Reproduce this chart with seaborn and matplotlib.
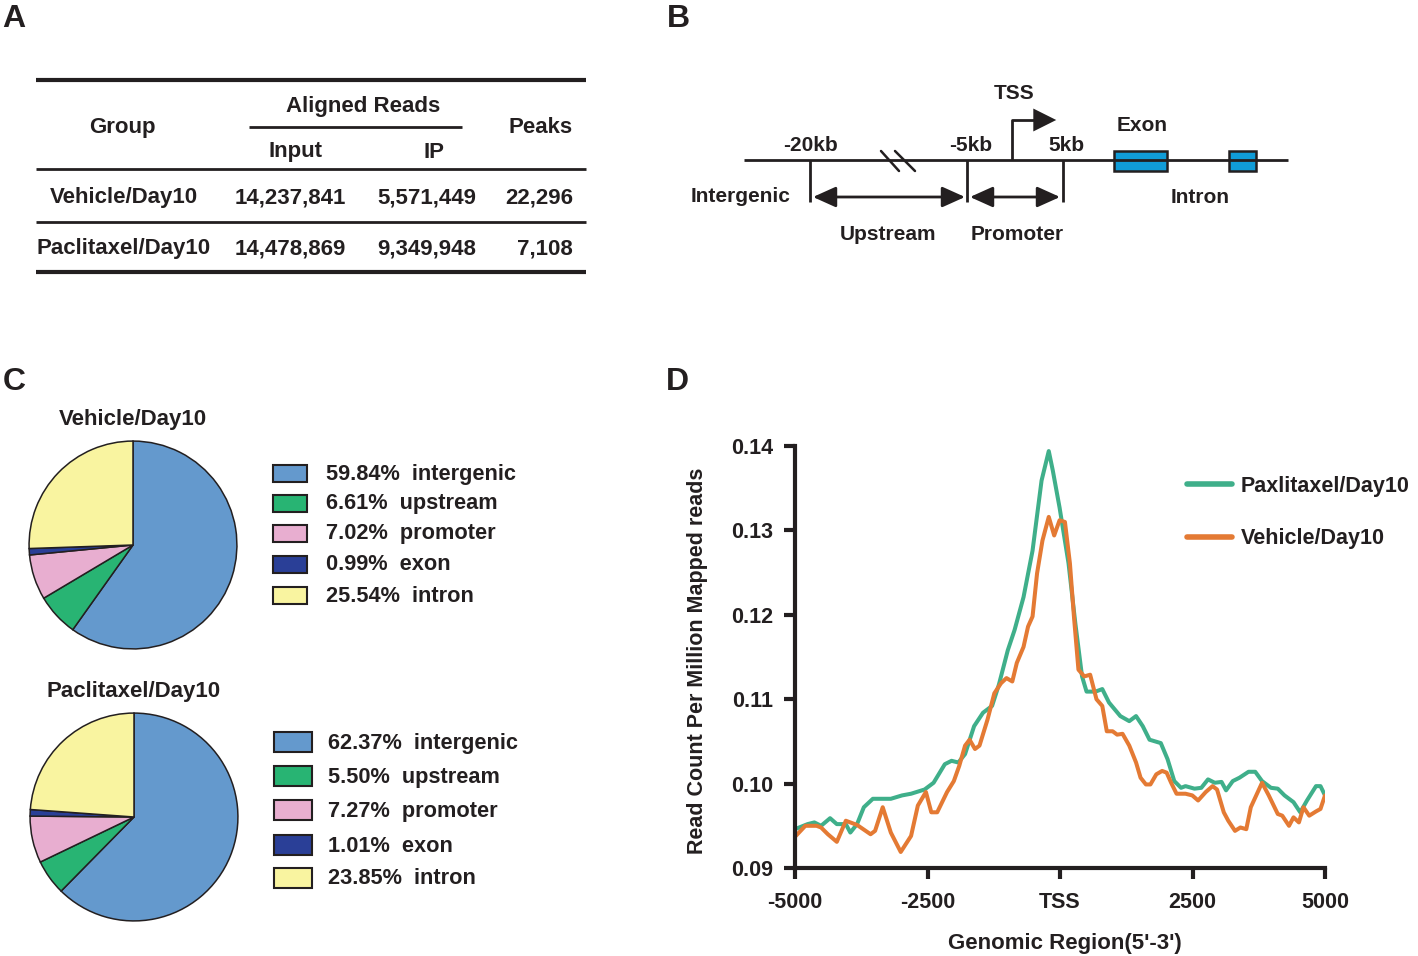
import numpy as np
import pandas as pd
import matplotlib
matplotlib.use("Agg")
import matplotlib.pyplot as plt
import seaborn as sns
from matplotlib.patches import Rectangle, FancyArrowPatch

# ---------------- data ----------------
groups = ["Vehicle/Day10", "Paclitaxel/Day10"]
input_reads = [14237841, 14478869]
ip_reads = [5571449, 9349948]
peaks = [22296, 7108]

pie_labels = ["intergenic", "upstream", "promoter", "exon", "intron"]
vehicle_pct = [59.84, 6.61, 7.02, 0.99, 25.54]
paclitaxel_pct = [62.37, 5.50, 7.27, 1.01, 23.85]
pie_colors = ["#6499CD", "#28B473", "#E8AED0", "#2A3F97", "#F9F4A0"]

series_names = ["Paxlitaxel/Day10", "Vehicle/Day10"]
pac_x = [-5000, -4762, -4635, -4508, -4338, -4211, -4041, -3956, -3829, -3701, -3531, -3192,
         -2980, -2810, -2555, -2385, -2173, -2046, -1918, -1791, -1621, -1452, -1282, -1154,
         -985, -857, -688, -518, -348, -212, -136, -8, 161, 289, 416, 501, 671, 798, 925,
         1138, 1307, 1435, 1562, 1689, 1902, 2029, 2156, 2284, 2368, 2538, 2666, 2793, 2920,
         3048, 3133, 3260, 3387, 3557, 3684, 3812, 3981, 4109, 4236, 4406, 4533, 4660, 4830,
         4915, 5000]
pac_y = [0.0946, 0.0952, 0.0954, 0.0950, 0.0959, 0.0952, 0.0952, 0.0942, 0.0952, 0.0972, 0.0982, 0.0982,
         0.0986, 0.0988, 0.0993, 0.1001, 0.1023, 0.1027, 0.1025, 0.1035, 0.1068, 0.1084, 0.1092, 0.1117,
         0.1158, 0.1182, 0.1221, 0.1276, 0.1359, 0.1394, 0.1371, 0.1327, 0.1261, 0.1190, 0.1127, 0.1109,
         0.1109, 0.1112, 0.1096, 0.1080, 0.1074, 0.1080, 0.1068, 0.1052, 0.1048, 0.1029, 0.1003, 0.0995,
         0.0997, 0.0994, 0.0995, 0.1005, 0.1001, 0.1002, 0.0992, 0.1003, 0.1007, 0.1014, 0.1014, 0.1003,
         0.0995, 0.0994, 0.0986, 0.0978, 0.0966, 0.0980, 0.0997, 0.0997, 0.0986]
veh_x = [-5000, -4805, -4593, -4508, -4380, -4211, -4041, -3829, -3574, -3489, -3345, -3192,
         -3005, -2810, -2682, -2530, -2428, -2317, -2131, -2003, -1901, -1791, -1706, -1604,
         -1519, -1367, -1239, -1112, -1010, -900, -815, -688, -603, -518, -433, -331, -212,
         -110, -8, 93, 187, 263, 348, 458, 569, 688, 798, 883, 993, 1078, 1180, 1307, 1435,
         1520, 1621, 1706, 1817, 1927, 2012, 2097, 2199, 2368, 2496, 2606, 2750, 2878, 2963,
         3090, 3175, 3302, 3404, 3515, 3600, 3812, 3939, 4109, 4194, 4321, 4406, 4508, 4593,
         4703, 4830, 4915, 5000]
veh_y = [0.0937, 0.0950, 0.0950, 0.0948, 0.0940, 0.0931, 0.0956, 0.0951, 0.0940, 0.0944, 0.0972, 0.0942,
         0.0919, 0.0938, 0.0974, 0.0990, 0.0966, 0.0966, 0.0990, 0.1003, 0.1021, 0.1045, 0.1052, 0.1041,
         0.1045, 0.1076, 0.1107, 0.1119, 0.1125, 0.1121, 0.1143, 0.1162, 0.1186, 0.1198, 0.1249, 0.1288,
         0.1316, 0.1294, 0.1312, 0.1310, 0.1261, 0.1198, 0.1135, 0.1127, 0.1129, 0.1100, 0.1092, 0.1062,
         0.1062, 0.1058, 0.1059, 0.1045, 0.1025, 0.1007, 0.0999, 0.0999, 0.1011, 0.1015, 0.1013, 0.1001,
         0.0988, 0.0988, 0.0986, 0.0980, 0.0990, 0.0997, 0.0993, 0.0966, 0.0956, 0.0944, 0.0948, 0.0946,
         0.0972, 0.1001, 0.0986, 0.0964, 0.0962, 0.0950, 0.0960, 0.0954, 0.0972, 0.0962, 0.0967, 0.0970,
         0.0986]
line_colors = ["#3FAF8A", "#E47A34"]
x_ticks = [-5000, -2500, 0, 2500, 5000]
x_tick_labels = ["-5000", "-2500", "TSS", "2500", "5000"]
y_ticks = [0.09, 0.10, 0.11, 0.12, 0.13, 0.14]

# ---------------- style ----------------
sns.set_theme(style="white")
plt.rcParams["font.family"] = ["Liberation Sans", "DejaVu Sans"]
plt.rcParams["font.weight"] = "bold"
INK = "#231f20"

W, H = 1418, 956
fig = plt.figure(figsize=(W / 100, H / 100), dpi=100)
fig.patch.set_facecolor("white")


def px_rect(l, t, r, b):
    return [l / W, 1 - b / H, (r - l) / W, (b - t) / H]


cv = fig.add_axes([0, 0, 1, 1])
cv.set_xlim(0, W)
cv.set_ylim(H, 0)
cv.axis("off")


def txt(x, y, s, size=16, ha="center", va="baseline", **kw):
    cv.text(x, y, s, fontsize=size, fontweight="bold", ha=ha, va=va, color=INK, **kw)


# panel letters
for lx, ly, lab in [(14, 27, "A"), (678, 27, "B"), (14, 390, "C"), (677, 390, "D")]:
    txt(lx, ly, lab, size=23)

# ---------------- panel A: table ----------------
TL, TR = 36, 586
cv.plot([TL, TR], [80, 80], color=INK, lw=3.0, solid_capstyle="butt")
cv.plot([249, 462], [127, 127], color=INK, lw=2.0, solid_capstyle="butt")
cv.plot([TL, TR], [169, 169], color=INK, lw=2.0, solid_capstyle="butt")
cv.plot([TL, TR], [222, 222], color=INK, lw=2.0, solid_capstyle="butt")
cv.plot([TL, TR], [272, 272], color=INK, lw=3.0, solid_capstyle="butt")
txt(363, 112, "Aligned Reads")
txt(122, 133, "Group")
txt(541, 133, "Peaks")
txt(295, 157, "Input")
txt(434, 158, "IP")
row_base = [203, 254]
for i, g in enumerate(groups):
    yb = row_base[i]
    txt(124, yb, g)
    txt(290, yb, f"{input_reads[i]:,}")
    txt(427, yb, f"{ip_reads[i]:,}")
    txt(573, yb, f"{peaks[i]:,}", ha="right")

# ---------------- panel B: diagram ----------------
BS = 15
cv.plot([744, 1288], [160, 160], color=INK, lw=2.0, solid_capstyle="butt")
cv.plot([881, 899], [151, 171], color=INK, lw=1.8)
cv.plot([895, 915], [151, 171], color=INK, lw=1.8)
for vx in [810, 967, 1063]:
    cv.plot([vx, vx], [160, 202], color=INK, lw=2.0, solid_capstyle="butt")
cv.plot([1012, 1012, 1044], [160, 120, 120], color=INK, lw=2.0, solid_capstyle="butt")
cv.add_patch(FancyArrowPatch((1040, 120), (1059, 120), arrowstyle="-|>,head_length=1.1,head_width=0.55",
                             mutation_scale=15, color=INK, lw=0))
for (x0, x1) in [(813, 965), (970, 1060)]:
    cv.add_patch(FancyArrowPatch((x0, 197), (x1, 197),
                                 arrowstyle="<|-|>,head_length=1.0,head_width=0.45",
                                 mutation_scale=14, color=INK, lw=2.0, shrinkA=0, shrinkB=0))
cv.add_patch(Rectangle((1114, 151), 53, 20, facecolor="#109CD8", edgecolor=INK, lw=1.8))
cv.add_patch(Rectangle((1229, 151), 27, 20, facecolor="#109CD8", edgecolor=INK, lw=1.8))
txt(1014, 99, "TSS", size=BS)
txt(811, 151, "-20kb", size=BS)
txt(971, 151, "-5kb", size=BS)
txt(1066, 151, "5kb", size=BS)
txt(1142, 131, "Exon", size=BS)
txt(741, 202, "Intergenic", size=BS)
txt(1200, 203, "Intron", size=BS)
txt(888, 240, "Upstream", size=BS)
txt(1017, 240, "Promoter", size=BS)

# ---------------- panel C: pies ----------------
def draw_pie(cx, cy, r, vals, title, ty, leg_ys, leg_x0, leg_w, leg_h, text_x):
    ax = fig.add_axes(px_rect(cx - r, cy - r, cx + r, cy + r))
    ax.pie(vals, colors=pie_colors, startangle=90, counterclock=False,
           wedgeprops=dict(edgecolor=INK, linewidth=1.1))
    ax.set_xlim(-1.02, 1.02)
    ax.set_ylim(-1.02, 1.02)
    ax.set_aspect("equal")
    ax.axis("off")
    txt(cx, ty, title, size=16, va="center")
    for v, lab, col, yy in zip(vals, pie_labels, pie_colors, leg_ys):
        cv.add_patch(Rectangle((leg_x0, yy - leg_h / 2), leg_w, leg_h, facecolor=col,
                               edgecolor=INK, lw=1.5))
        txt(text_x, yy + 1, f"{v:.2f}%  {lab}", size=15.7, ha="left", va="center")


draw_pie(133, 545, 106, vehicle_pct, groups[0], 420, [473, 503, 533, 564, 595], 273, 34, 17, 326)
draw_pie(134, 817, 106, paclitaxel_pct, groups[1], 692, [742, 776, 810, 845, 878], 274, 38, 20, 328)

# ---------------- panel D: line chart ----------------
frames = [pd.DataFrame({"pos": pac_x, "rpm": pac_y, "group": series_names[0]}),
          pd.DataFrame({"pos": veh_x, "rpm": veh_y, "group": series_names[1]})]
df = pd.concat(frames, ignore_index=True)

axd = fig.add_axes(px_rect(795, 446, 1325, 868))
sns.lineplot(data=df, x="pos", y="rpm", hue="group", hue_order=series_names,
             palette=line_colors, linewidth=2.9, estimator=None, sort=False, ax=axd)
axd.set_xlim(-5000, 5000)
axd.set_ylim(0.09, 0.14)
axd.set_facecolor("none")
sns.despine(ax=axd)
for side in ["left", "bottom"]:
    axd.spines[side].set_linewidth(3)
    axd.spines[side].set_color(INK)
axd.set_xticks(x_ticks)
axd.set_xticklabels(x_tick_labels)
axd.set_yticks(y_ticks)
axd.set_yticklabels([f"{v:.2f}" for v in y_ticks])
axd.tick_params(axis="both", direction="out", length=8, width=3, color=INK,
                labelsize=15.5, labelcolor=INK, bottom=True, left=True)
axd.tick_params(axis="x", pad=9)
axd.tick_params(axis="y", pad=8)
for t in axd.get_xticklabels() + axd.get_yticklabels():
    t.set_fontweight("bold")
axd.set_xlabel("Genomic Region(5'-3')", fontsize=16, fontweight="bold", color=INK)
axd.set_ylabel("Read Count Per Million Mapped reads", fontsize=15.5, fontweight="bold", color=INK)
axd.xaxis.set_label_coords(0.51, -0.153)
axd.yaxis.set_label_coords(-0.165, 0.49)
axd.grid(False)

handles, labels = axd.get_legend_handles_labels()
leg = axd.legend(handles=handles, labels=labels, loc="upper left",
                 bbox_to_anchor=(1187 / W, 1 - 476 / H), bbox_transform=fig.transFigure,
                 frameon=False, prop={"weight": "bold", "size": 15.5},
                 handlelength=2.1, handletextpad=0.4, labelspacing=1.45,
                 borderpad=0, borderaxespad=0)
for ln in leg.get_lines():
    ln.set_linewidth(4)
for t in leg.get_texts():
    t.set_color(INK)

fig.savefig("out.png", dpi=100)
